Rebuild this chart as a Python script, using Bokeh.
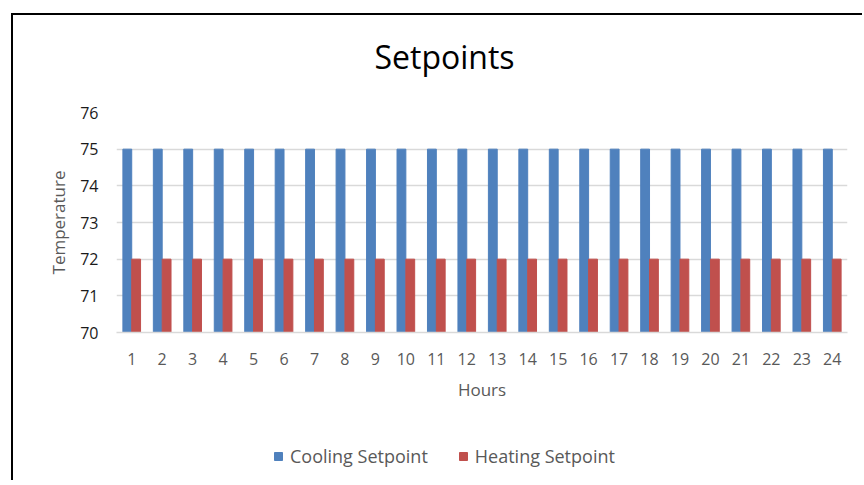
from bokeh.plotting import figure
from bokeh.layouts import column
from bokeh.models import (ColumnDataSource, FactorRange, FixedTicker, Legend, LegendItem, Range1d)
from bokeh.transform import dodge
from bokeh.embed import file_html
from bokeh.resources import INLINE

hours = [str(h) for h in range(1, 25)]
cooling = [75] * 24
heating = [72] * 24
y_ticks = [70, 71, 72, 73, 74, 75, 76]
series_names = ["Cooling Setpoint", "Heating Setpoint"]
colors = ["#4F81BD", "#C0504D"]

src = ColumnDataSource(data=dict(hours=hours, cooling=cooling, heating=heating))

FONT = "Open Sans"
p = figure(width=849, height=405, x_range=FactorRange(*hours, range_padding=0),
           y_range=Range1d(70, 76), output_backend="svg", toolbar_location=None,
           min_border_left=103, min_border_right=15, min_border_top=97, min_border_bottom=88)

p.vbar(x=dodge("hours", -0.145, range=p.x_range), top="cooling", bottom=70, width=0.29,
       source=src, color=colors[0])
p.vbar(x=dodge("hours", 0.145, range=p.x_range), top="heating", bottom=70, width=0.29,
       source=src, color=colors[1])

p.title.text = "Setpoints"
p.title.align = "left"
p.title.text_font = FONT
p.title.text_font_size = "32px"
p.title.text_font_style = "normal"
p.title.text_color = "#000000"
p.title.offset = 258
try:
    p.title.padding = dict(left=0, right=0, top=0, bottom=35)
    p.title.standoff = 0
except Exception:
    try:
        p.title.padding = (0, 0, 35, 0)
        p.title.standoff = 0
    except Exception:
        p.title.standoff = 50

p.outline_line_color = None
p.background_fill_color = "white"
p.border_fill_color = "white"

p.xgrid.grid_line_color = None
p.ygrid.grid_line_color = "#d9d9d9"
p.ygrid.grid_line_width = 1.3
p.yaxis.ticker = FixedTicker(ticks=y_ticks)

p.yaxis.axis_line_color = None
p.yaxis.major_tick_line_color = None
p.yaxis.minor_tick_line_color = None
p.yaxis.major_label_standoff = 12
p.yaxis.major_label_text_font = FONT
p.yaxis.major_label_text_font_size = "16px"
p.yaxis.major_label_text_color = "#1a1a1a"
p.yaxis.axis_label = "Temperature"
p.yaxis.axis_label_text_font = FONT
p.yaxis.axis_label_text_font_size = "17px"
p.yaxis.axis_label_text_font_style = "normal"
p.yaxis.axis_label_text_color = "#595959"
p.yaxis.axis_label_standoff = 7

p.xaxis.axis_line_color = "#d9d9d9"
p.xaxis.axis_line_width = 1.3
p.xaxis.major_tick_line_color = None
p.xaxis.minor_tick_line_color = None
p.xaxis.major_label_standoff = 14
p.xaxis.major_label_text_font = FONT
p.xaxis.major_label_text_font_size = "16px"
p.xaxis.major_label_text_color = "#595959"
p.xaxis.axis_label = "Hours"
p.xaxis.axis_label_text_font = FONT
p.xaxis.axis_label_text_font_size = "17px"
p.xaxis.axis_label_text_font_style = "normal"
p.xaxis.axis_label_text_color = "#595959"
p.xaxis.axis_label_standoff = 10

# legend strip below the chart
p2 = figure(width=849, height=60, x_range=p.x_range, y_range=Range1d(0, 1),
            output_backend="svg", toolbar_location=None, x_axis_type=None, y_axis_type=None,
            min_border_left=0, min_border_right=0, min_border_top=0, min_border_bottom=0)
p2.outline_line_color = None
p2.grid.grid_line_color = None
p2.border_fill_color = "white"
l1 = p2.vbar(x=dodge("hours", -0.145, range=p2.x_range), top="cooling", bottom=70, width=0.29,
             source=src, color=colors[0], visible=False)
l2 = p2.vbar(x=dodge("hours", 0.145, range=p2.x_range), top="heating", bottom=70, width=0.29,
             source=src, color=colors[1], visible=False)

legend = Legend(items=[LegendItem(label=series_names[0], renderers=[l1]),
                       LegendItem(label=series_names[1], renderers=[l2])],
                orientation="horizontal", location=(157, 12))
legend.label_text_font = FONT
legend.label_text_font_size = "18px"
legend.label_text_color = "#595959"
legend.glyph_width = 10
legend.glyph_height = 10
legend.label_standoff = 7
legend.spacing = 30
legend.border_line_color = None
legend.background_fill_alpha = 0
legend.margin = 0
legend.padding = 0
p2.add_layout(legend)

layout = column(p, p2, spacing=0)
layout.styles = {"border-left": "2px solid black", "border-top": "2px solid black"}
layout.margin = (13, 0, 0, 11)

open("out.html", "w").write(file_html(layout, INLINE))
